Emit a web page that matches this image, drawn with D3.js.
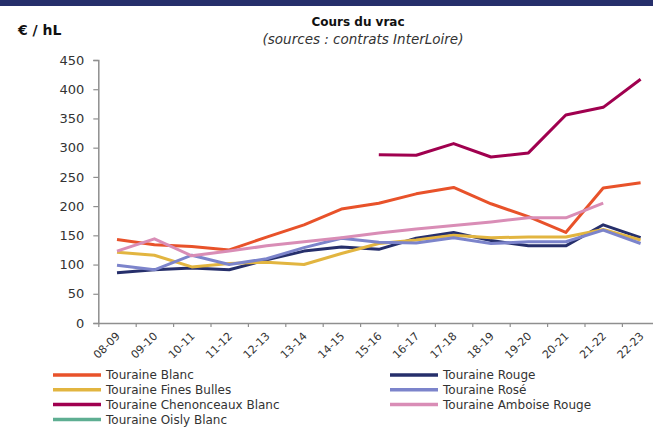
<!DOCTYPE html>
<html>
<head>
<meta charset="utf-8">
<script src="https://cdn.jsdelivr.net/npm/d3@7"></script>
<style>
    body { margin: 0; background: #fff; }
    #chart-area { width: 653px; height: 428px; }
    text { font-family: "DejaVu Sans", sans-serif; fill: #333; }
</style>
</head>
<body>
<div id="chart-area"></div>
<script>

// campaigns (x axis)
let categories = ["08-09", "09-10", "10-11", "11-12", "12-13", "13-14", "14-15", "15-16",
    "16-17", "17-18", "18-19", "19-20", "20-21", "21-22", "22-23"];

let yTicks = [0, 50, 100, 150, 200, 250, 300, 350, 400, 450];

// prices in € / hL
let tourBlanc       = [143, 134, 131, 125, 147, 168, 195, 205, 221, 232, 204, 182, 155, 231, 240];
let tourRouge       = [86, 91, 94, 91, 108, 123, 130, 126, 145, 155, 141, 132, 132, 168, 146];
let tourFinesBulles = [121, 116, 96, 102, 104, 100, 119, 136, 142, 150, 146, 147, 147, 160, 142];
let tourRose        = [99, 91, 116, 100, 110, 129, 145, 138, 137, 146, 136, 139, 139, 159, 136];
let tourChenonceaux = [null, null, null, null, null, null, null, 288, 287, 307, 284, 291, 356, 369, 417];
let tourAmboise     = [123, 144, 115, 123, 132, 139, 146, 154, 161, 167, 173, 180, 180, 205, null];
let tourOisly       = [null, null, null, null, null, null, null, null, null, null, null, null, null, null, null];

let seriesNames = ["Touraine Blanc", "Touraine Rouge", "Touraine Fines Bulles", "Touraine Rosé",
    "Touraine Chenonceaux Blanc", "Touraine Amboise Rouge", "Touraine Oisly Blanc"];
let seriesValues = [tourBlanc, tourRouge, tourFinesBulles, tourRose, tourChenonceaux, tourAmboise, tourOisly];

let seriesColors = ["#e8522a", "#262f6b", "#e2b540", "#7c84cb", "#a0004f", "#d98db6", "#5eae92"];


class VracChart {

    constructor(parentElement) {
        this.parentElement = parentElement;
        this.initVis();
    }

    initVis() {
        let vis = this;

        vis.margin = {top: 60, left: 98.3, bottom: 105};
        vis.bandWidth = 37.4;
        vis.fullWidth = 653;
        vis.fullHeight = 428;
        vis.height = vis.fullHeight - vis.margin.top - vis.margin.bottom;
        vis.width = vis.bandWidth * categories.length;   // runs a bit past the right edge, like the original

        vis.svg = d3.select("#" + vis.parentElement).append("svg")
            .attr("width", vis.fullWidth)
            .attr("height", vis.fullHeight);

        // navy strip at the top
        vis.svg.append("rect")
            .attr("x", 0).attr("y", 0)
            .attr("width", vis.fullWidth).attr("height", 6)
            .attr("fill", "#262f6b");

        // titles
        vis.svg.append("text")
            .attr("x", 18).attr("y", 35)
            .attr("font-size", 14).attr("font-weight", "bold")
            .style("fill", "#111")
            .text("€ / hL");

        vis.svg.append("text")
            .attr("x", 358).attr("y", 26)
            .attr("text-anchor", "middle")
            .attr("font-size", 12).attr("font-weight", "bold")
            .style("fill", "#111")
            .text("Cours du vrac");

        vis.svg.append("text")
            .attr("x", 363).attr("y", 44)
            .attr("text-anchor", "middle")
            .attr("font-size", 13.5).attr("font-style", "italic")
            .style("fill", "#333")
            .text("(sources : contrats InterLoire)");

        vis.g = vis.svg.append("g")
            .attr("transform", "translate(" + vis.margin.left + "," + vis.margin.top + ")");

        // scales
        vis.x = d3.scaleLinear()
            .domain([0, categories.length])
            .range([0, vis.width]);

        vis.y = d3.scaleLinear()
            .domain([0, 450])
            .range([vis.height, 0]);

        vis.wrangleData();
    }

    wrangleData() {
        let vis = this;

        vis.displayData = seriesNames.map((name, s) => ({
            name: name,
            color: seriesColors[s],
            values: categories.map((c, i) => ({i: i, value: seriesValues[s][i]}))
        }));

        vis.updateVis();
    }

    updateVis() {
        let vis = this;
        let axisColor = "#8f8f8f";

        // y axis
        let yAxis = d3.axisLeft(vis.y)
            .tickValues(yTicks)
            .tickSize(5)
            .tickPadding(9);

        let yG = vis.g.append("g").call(yAxis);
        yG.select(".domain").attr("stroke", axisColor).attr("stroke-width", 1.5);
        yG.selectAll(".tick line").attr("stroke", axisColor).attr("stroke-width", 1.2);
        yG.selectAll(".tick text")
            .attr("font-size", 13)
            .attr("font-family", "DejaVu Sans")
            .style("fill", "#333");

        // x axis: ticks between the campaigns
        let xAxis = d3.axisBottom(vis.x)
            .tickValues(d3.range(0, categories.length + 1))
            .tickSize(4)
            .tickSizeOuter(0)
            .tickFormat("");

        let xG = vis.g.append("g")
            .attr("transform", "translate(0," + vis.height + ")")
            .call(xAxis);
        xG.select(".domain").attr("stroke", axisColor).attr("stroke-width", 1.5);
        xG.selectAll(".tick line").attr("stroke", axisColor).attr("stroke-width", 1.2);

        vis.g.append("g")
            .selectAll("text")
            .data(categories)
            .enter().append("text")
            .attr("transform", (d, i) => "translate(" + (vis.x(i + 0.5) + 1) + "," + (vis.height + 11) + ") rotate(-45)")
            .attr("text-anchor", "end")
            .attr("dy", "0.35em")
            .attr("font-size", 11)
            .style("fill", "#333")
            .text(d => d);

        // lines
        let line = d3.line()
            .defined(d => d.value != null)
            .x(d => vis.x(d.i + 0.5))
            .y(d => vis.y(d.value));

        vis.g.append("g")
            .selectAll("path")
            .data(vis.displayData)
            .enter().append("path")
            .attr("d", d => line(d.values))
            .attr("fill", "none")
            .attr("stroke", d => d.color)
            .attr("stroke-width", 3)
            .attr("stroke-linejoin", "round");

        // legend, two columns
        let legend = vis.svg.append("g");
        let items = legend.selectAll("g")
            .data(vis.displayData)
            .enter().append("g")
            .attr("transform", (d, i) => "translate(" + (i % 2 === 0 ? 53 : 390) + "," + (375 + Math.floor(i / 2) * 14.8) + ")");

        items.append("line")
            .attr("x1", 0).attr("x2", 48)
            .attr("y1", 0).attr("y2", 0)
            .attr("stroke", d => d.color)
            .attr("stroke-width", 3.5);

        items.append("text")
            .attr("x", 53)
            .attr("dy", "0.35em")
            .attr("font-size", 12)
            .style("fill", "#333")
            .text(d => d.name);
    }
}

let chart = new VracChart("chart-area");

</script>
</body>
</html>
